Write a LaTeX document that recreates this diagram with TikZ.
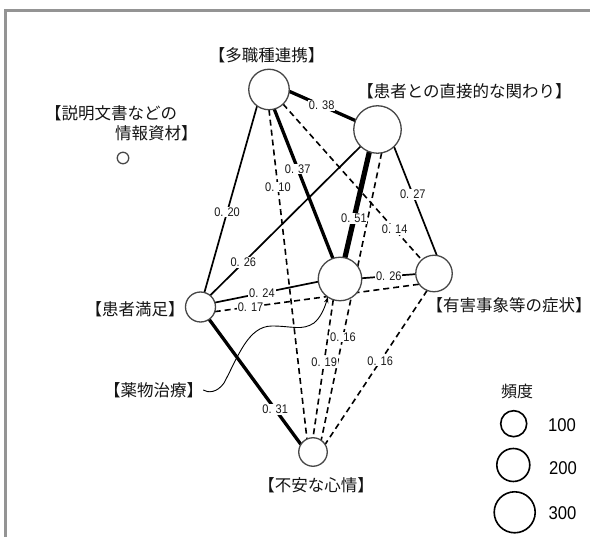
\documentclass[tikz,border=0pt]{standalone}
\usepackage{fontspec}
\setmainfont{Liberation Sans}
\newfontfamily\jp{Noto Sans CJK JP}
\newfontfamily\numf[FakeStretch=0.88]{Liberation Sans}
\newfontfamily\legf[FakeStretch=0.9]{Liberation Sans}
\usetikzlibrary{arrows.meta,backgrounds}
\begin{document}
\begin{tikzpicture}[x=1pt,y=-1pt,
  nd/.style={circle,draw=black!72,line width=1.3pt,fill=white,inner sep=0pt,outer sep=0pt,minimum size=#1},
  lg/.style={circle,draw=black,line width=1.6pt,fill=white,inner sep=0pt,outer sep=0pt,minimum size=#1},
  jl/.style={font=\jp\fontsize{16.5}{19}\selectfont,text=black!92,inner sep=0pt},
  wt/.style={line width=1.7pt},
  th/.style={line width=3.3pt},
  vth/.style={line width=5.2pt},
  ds/.style={line width=1.6pt,dash pattern=on 6pt off 4pt},
  lb/.style={font=\numf\fontsize{12.5}{14}\selectfont,fill=white,inner sep=0.8pt,text=black!90},
  lgn/.style={font=\legf\fontsize{18.5}{20}\selectfont,text=black,inner sep=0pt},
]
\useasboundingbox (0,0) rectangle (590,537);
\draw[line width=3.3pt,black!42,line join=miter] (5.3,540) -- (5.3,10.7) -- (593,10.7);

% nodes
\node[nd=40.5] (A) at (269,89.5) {};
\node[nd=47.5] (B) at (377.5,129.5) {};
\node[nd=30] (C) at (200.5,307) {};
\node[nd=43.5] (D) at (340,279) {};
\node[nd=36.5] (E) at (434,273.5) {};
\node[nd=28.5] (F) at (313,452) {};
\node[nd=11.5] (G) at (123,158) {};

% node texts
\node[jl] (tA) at (266.5,55) {【多職種連携】};
\node[jl] (tB) at (464.5,91) {【患者との直接的な関わり】};
\node[jl,anchor=west] (tG1) at (45,113) {【説明文書などの};
\node[jl,anchor=west] (tG2) at (115,133) {情報資材】};
\node[jl] (tC) at (135,309) {【患者満足】};
\node[jl] (tD) at (153.5,390) {【薬物治療】};
\node[jl] (tE) at (509,305) {【有害事象等の症状】};
\node[jl] (tF) at (316,485) {【不安な心情】};

% edges
\begin{scope}[on background layer]
\draw[th] (A.-5) -- coordinate[pos=.49] (l1) (B.158);
\draw[th] (A.-75) -- coordinate[pos=.40] (l2) (D.109);
\draw[ds] (A.-90) -- coordinate[pos=.235] (l3) (F.115);
\draw[wt] (A.234) -- coordinate[pos=.57] (l4) (C.75);
\draw[ds] (A.-46) -- coordinate[pos=.805] (l5) (E.132);
\draw[wt] (B.225) -- coordinate[pos=.78] (l6) (C.50);
\draw[vth] (B.250) -- coordinate[pos=.63] (l7) (D.77);
\draw[ds] (B.-80) -- coordinate[pos=.64] (l8) (F.55);
\draw[ds] (D.252) -- coordinate[pos=.45] (l9) (F.90);
\draw[ds] (E.248) -- coordinate[pos=.46] (l10) (F.32);
\draw[wt] (C.17) -- coordinate[pos=.455] (l11) (D.187);
\draw[ds] (C.-18) -- coordinate[pos=.175] (l12) (E.216);
\draw[wt] (D.2) -- coordinate[pos=.5] (l13) (E.182);
\draw[wt] (B.-46) -- coordinate[pos=.44] (l14) (E.81);
\draw[th] (C.-55) -- coordinate[pos=.72] (l15) (F.148);
\end{scope}

% edge labels
\node[lb] at (l1) {0. 38};
\node[lb] at (l2) {0. 37};
\node[lb] at (l3) {0. 10};
\node[lb] at (l4) {0. 20};
\node[lb] at (l5) {0. 14};
\node[lb] at (l6) {0. 26};
\node[lb] at (l7) {0. 51};
\node[lb] at (l8) {0. 16};
\node[lb] at (l9) {0. 19};
\node[lb] at (l10) {0. 16};
\node[lb] at (l11) {0. 24};
\node[lb] at (l12) {0. 17};
\node[lb] at (l13) {0. 26};
\node[lb] at (l14) {0. 27};
\node[lb] at (l15) {0. 31};

% callout
\draw[line width=0.9pt,-{Stealth[length=6pt,width=4.5pt]}] (tD.east)
  .. controls (208,393) and (217,393) .. (224,383)
  .. controls (238,357) and (248,326) .. (272,326)
  .. controls (292,326) and (302,331) .. (314,323)
  .. controls (320,318) and (324,310) .. (D.236);

% legend
\node[font=\jp\fontsize{16}{18}\selectfont,text=black!92,inner sep=0pt] (hd) at (517,391) {頻度};
\node[lg=26] (L1) at (513.7,423.7) {};
\node[lg=33] (L2) at (513.3,465) {};
\node[lg=41] (L3) at (514.7,512.3) {};
\node[lgn] (n1) at (562,425) {100};
\node[lgn] (n2) at (563,468.5) {200};
\node[lgn] (n3) at (562.5,513.5) {300};
\end{tikzpicture}
\end{document}
